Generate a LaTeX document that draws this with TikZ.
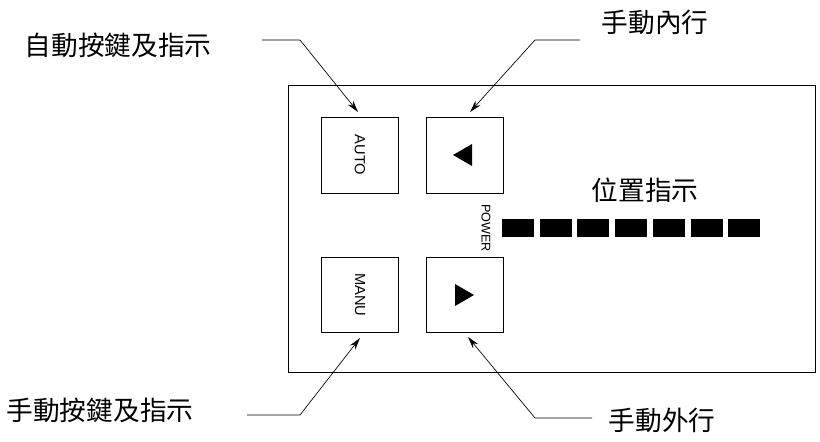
\documentclass[tikz,border=0pt]{standalone}
\usepackage{fontspec}
\setmainfont{Liberation Sans}
\newfontfamily\cjk{Noto Sans CJK TC}
\usetikzlibrary{arrows.meta}
\begin{document}
\begin{tikzpicture}[x=0.75pt,y=-0.75pt,
  box/.style={draw,line width=0.5pt},
  lead/.style={draw,line width=0.5pt,-{Stealth[length=9pt,width=5pt]}},
  lbl/.style={font=\cjk\fontsize{20}{20}\selectfont},
  led/.style={fill=black}]
\useasboundingbox (0,0) rectangle (820,442);
\draw[box] (288,85) rectangle (815,372);
\draw[box] (321,117) rectangle (398,193);
\draw[box] (426,117) rectangle (503,193);
\draw[box] (321,257) rectangle (398,332);
\draw[box] (426,257) rectangle (503,332);
\node[rotate=-90,font=\fontsize{11}{11}\selectfont] (auto) at (360,155) {AUTO};
\node[rotate=-90,font=\fontsize{11}{11}\selectfont] (manu) at (360,295) {MANU};
\node[rotate=-90,font=\fontsize{9.5}{9.5}\selectfont] (power) at (486,228) {POWER};
\fill (453,155) -- (472,144) -- (472,166) -- cycle;
\fill (474,295) -- (455,284) -- (455,306) -- cycle;
\foreach \i in {0,...,6} \fill[led] ({502+\i*37.7},219) rectangle ({534+\i*37.7},237);
\node[lbl] (pos) at (645,190) {位置指示};
\node[lbl] (l1) at (118,45) {自動按鍵及指示};
\node[lbl] (l2) at (655,22) {手動內行};
\node[lbl] (l3) at (100,410) {手動按鍵及指示};
\node[lbl] (l4) at (662,420) {手動外行};
\coordinate (a1) at (262,40); \coordinate (b1) at (300,40); \coordinate (c1) at (358,112);
\coordinate (a2) at (580,40); \coordinate (b2) at (535,40); \coordinate (c2) at (470,112);
\coordinate (a3) at (247,415); \coordinate (b3) at (300,415); \coordinate (c3) at (360,338);
\coordinate (a4) at (592,418); \coordinate (b4) at (535,418); \coordinate (c4) at (468,337);
\draw[lead] (a1) -- (b1) -- (c1);
\draw[lead] (a2) -- (b2) -- (c2);
\draw[lead] (a3) -- (b3) -- (c3);
\draw[lead] (a4) -- (b4) -- (c4);
\end{tikzpicture}
\end{document}
